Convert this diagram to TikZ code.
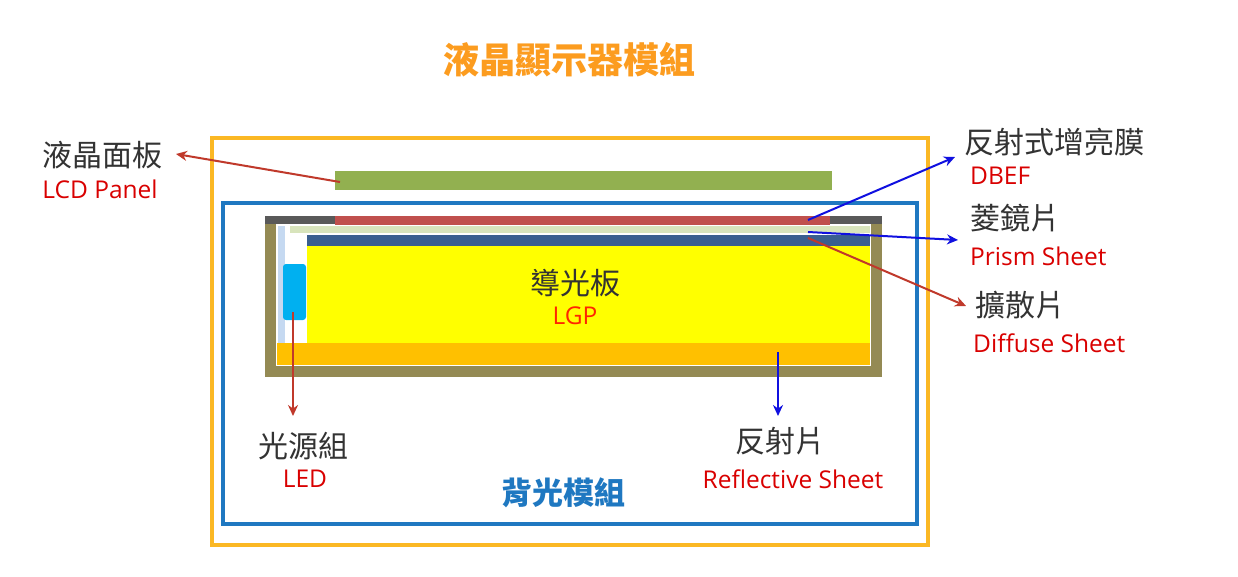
\documentclass[tikz,border=0pt]{standalone}
\usepackage{fontspec}
\setmainfont{Open Sans}
\newfontfamily\cjk{Noto Sans CJK TC}
\usetikzlibrary{arrows.meta}
\begin{document}
\begin{tikzpicture}[x=1pt,y=-1pt,
 zh/.style={font=\cjk\fontsize{30}{34}\selectfont,text=black!80,inner sep=0},
 en/.style={font=\fontsize{24.5}{28}\selectfont,text=red!85!black,inner sep=0},
 ar/.style={line width=2pt,-{Stealth[length=11pt,width=10pt]}}]
\definecolor{ob}{HTML}{FBB824}\definecolor{bb}{HTML}{1F78C1}
\definecolor{olive}{HTML}{948A54}\definecolor{dg}{HTML}{595959}
\definecolor{rbar}{HTML}{C0504D}\definecolor{cream}{HTML}{D8E4BC}
\definecolor{nb}{HTML}{3A5F8F}\definecolor{yel}{HTML}{FFFF00}
\definecolor{org}{HTML}{FFC000}\definecolor{pg}{HTML}{92B050}
\definecolor{ledb}{HTML}{00B0F0}\definecolor{lb}{HTML}{C5D9F1}
\definecolor{arR}{HTML}{C0392B}\definecolor{arB}{HTML}{1010E0}
\useasboundingbox (0,0) rectangle (1238,577);
\fill[white] (0,0) rectangle (1238,577);
\node[font=\cjk\bfseries\fontsize{36}{40}\selectfont,text=ob!85!red] (title) at (569,60) {液晶顯示器模組};
\draw[ob,line width=4pt] (212,138) rectangle (928,545);
\draw[bb,line width=3.5pt] (223,203) rectangle (917,524);
\fill[pg] (335,171) rectangle (832,190); \coordinate (panel) at (340,182);
\fill[olive] (265,216) rectangle (882,377);
\fill[white] (276,224) rectangle (871,366);
\fill[dg] (265,216) rectangle (882,224);
\fill[rbar] (335,216) rectangle (830,225);
\fill[cream] (290,226) rectangle (870,233);
\fill[nb] (307,235) rectangle (870,246);
\fill[yel] (307,246) rectangle (870,343);
\fill[org] (277,343) rectangle (870,365);
\fill[lb] (278,226) rectangle (285,343);
\fill[ledb,rounded corners=3pt] (283,264) rectangle (306,320);
\coordinate (dbefP) at (808,220);\coordinate (prP) at (808,232);\coordinate (dfP) at (808,238);
\coordinate (ledP) at (293,312);\coordinate (refP) at (778,352);
\node[zh] (lgp) at (575,283) {導光板};
\node[en,text=red!70!orange] (lgpe) at (575,316) {LGP};
\node[zh] (l1) at (102,155) {液晶面板};
\node[en] (l1e) at (100,189) {LCD Panel};
\node[zh,anchor=west] (r1) at (964,142) {反射式增亮膜};
\node[en,anchor=west] (r1e) at (970,176) {DBEF};
\node[zh,anchor=west] (r2) at (970,218) {菱鏡片};
\node[en,anchor=west] (r2e) at (970,256) {Prism Sheet};
\node[zh,anchor=west] (r3) at (975,305) {擴散片};
\node[en,anchor=west] (r3e) at (973,343) {Diffuse Sheet};
\node[zh] (led) at (303,446) {光源組};
\node[en] (lede) at (305,479) {LED};
\node[zh] (ref) at (780,441) {反射片};
\node[en] (refe) at (793,479) {Reflective Sheet};
\node[font=\cjk\bfseries\fontsize{31}{34}\selectfont,text=bb] (bl) at (563,493) {背光模組};
\coordinate (a1) at (176,154);\coordinate (a2) at (955,157);\coordinate (a3) at (958,240);
\coordinate (a4) at (966,306);\coordinate (a5) at (293,416);\coordinate (a6) at (778,416);
\draw[ar,arR] (panel) -- (a1);
\draw[ar,arB] (dbefP) -- (a2);
\draw[ar,arB] (prP) -- (a3);
\draw[ar,arR] (dfP) -- (a4);
\draw[ar,arR] (ledP) -- (a5);
\draw[ar,arB] (refP) -- (a6);
\end{tikzpicture}
\end{document}
